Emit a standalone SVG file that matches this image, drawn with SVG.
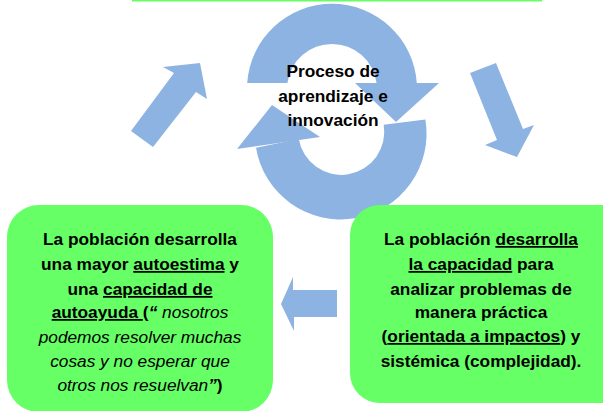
<svg xmlns="http://www.w3.org/2000/svg" width="603" height="411" viewBox="0 0 603 411">
  <style>
    .blue { fill: #8DB3E2; }
    .box { fill: #66FF66; }
    .t { font-family: "Liberation Sans", Arial, sans-serif; font-size: 17.3px; font-weight: bold; fill: #000; text-anchor: middle; }
    .i { font-style: italic; font-weight: normal; }
    .bi { font-style: italic; font-weight: bold; }
    .u { text-decoration: underline; }
  </style>
  <rect width="603" height="411" fill="#fff"/>

  <g id="node-top">
    <rect class="box" x="132" y="-20" width="410" height="21.5"/>
  </g>

  <g id="node-proceso">
    <path class="blue" d="M 425.4,119.6 A 85 85 0 0 1 256,147.7 L 298.8,138.9 A 43 43 0 0 0 383.7,124.8 Z"/>
    <polygon class="blue" points="237,149 320,137 272,105"/>
    <path class="blue" d="M 247.2,83 A 85 85 0 0 1 416.8,83 L 376.6,83 A 45 45 0 0 0 287.4,83 Z"/>
    <polygon class="blue" points="355,83 439,83 396,122"/>
    <text class="t" x="333" y="77">Proceso de</text>
    <text class="t" x="333" y="102">aprendizaje e</text>
    <text class="t" x="333" y="126">innovación</text>
  </g>

  <g id="node-izquierda">
    <rect class="box" x="7" y="205" width="266" height="207" rx="32" ry="32"/>
    <text class="t" x="140" y="245">La población desarrolla</text>
    <text class="t" x="140" y="270">una mayor <tspan class="u">autoestima</tspan> y</text>
    <text class="t" x="140" y="295">una <tspan class="u">capacidad de</tspan></text>
    <text class="t" x="140" y="318"><tspan class="u">autoayuda </tspan>(<tspan class="bi">“</tspan><tspan class="i"> nosotros</tspan></text>
    <text class="t i" x="140" y="343">podemos resolver muchas</text>
    <text class="t i" x="140" y="367">cosas y no esperar que</text>
    <text class="t" x="140" y="391"><tspan class="i">otros nos resuelvan</tspan><tspan class="bi">”</tspan>)</text>
  </g>

  <g id="node-derecha">
    <rect class="box" x="350" y="205" width="290" height="198" rx="30" ry="30"/>
    <text class="t" x="481" y="245">La población <tspan class="u">desarrolla</tspan></text>
    <text class="t" x="481" y="270"><tspan class="u">la capacidad</tspan> para</text>
    <text class="t" x="481" y="295">analizar problemas de</text>
    <text class="t" x="481" y="318">manera práctica</text>
    <text class="t" x="481" y="342">(<tspan class="u">orientada a impactos</tspan>) y</text>
    <text class="t" x="481" y="367">sistémica (complejidad).</text>
  </g>

  <g id="connectors">
    <polygon class="blue" points="131,131 174,73 163,67 200,63 207,99 196,92 153,147"/>
    <polygon class="blue" points="470,73 497,140 485,145 517,157 534,125 523,129 496,63"/>
    <polygon class="blue" points="337,290 293,290 293,277 281,304 294,331 294,317 337,317"/>
  </g>
</svg>
